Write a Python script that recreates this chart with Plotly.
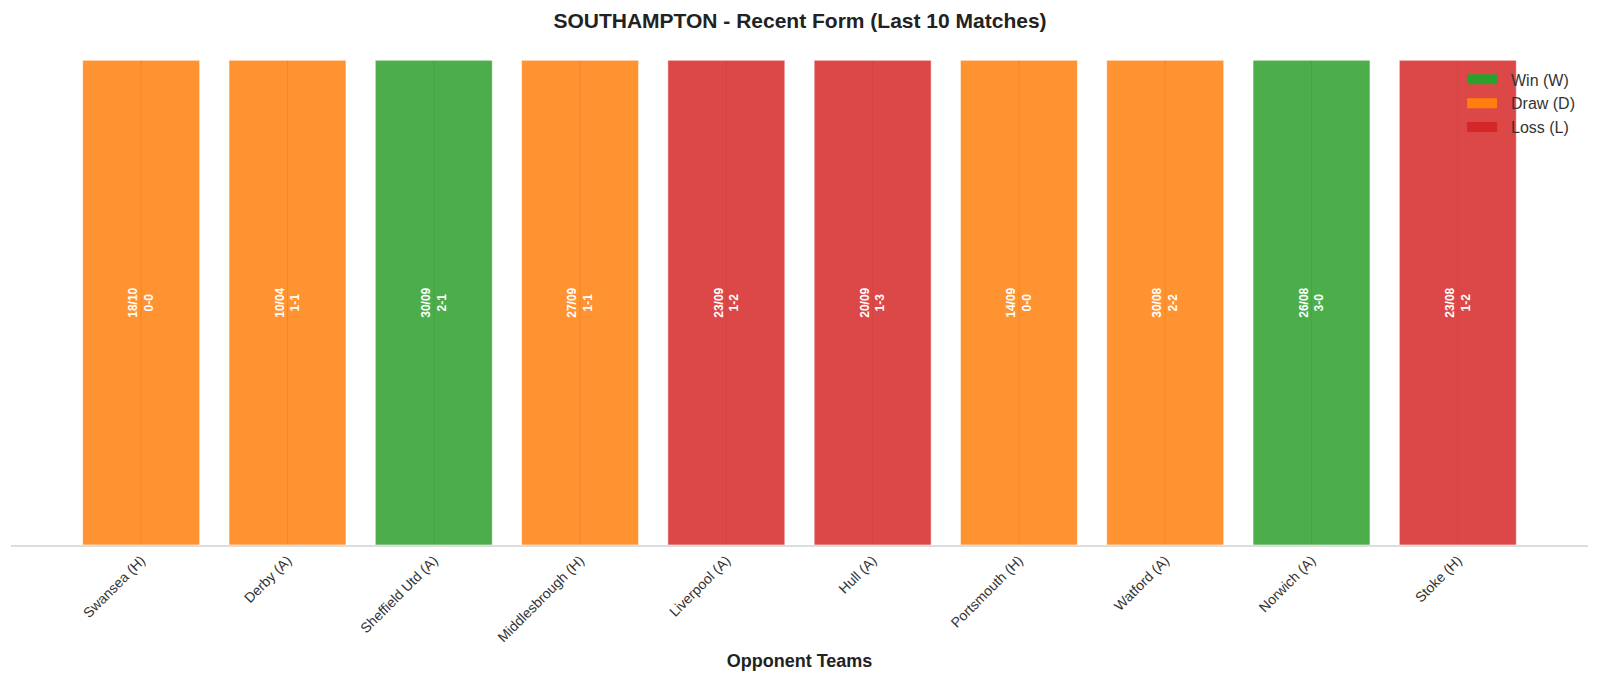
import plotly.graph_objects as go

# last 10 matches, most recent first
teams = ["Swansea (H)", "Derby (A)", "Sheffield Utd (A)", "Middlesbrough (H)", "Liverpool (A)",
         "Hull (A)", "Portsmouth (H)", "Watford (A)", "Norwich (A)", "Stoke (H)"]
dates = ["18/10", "10/04", "30/09", "27/09", "23/09", "20/09", "14/09", "30/08", "26/08", "23/08"]
scores = ["0-0", "1-1", "2-1", "1-1", "1-2", "1-3", "0-0", "2-2", "3-0", "1-2"]
results = ["D", "D", "W", "D", "L", "L", "D", "D", "W", "L"]
heights = [1] * len(teams)

result_names = {"W": "Win (W)", "D": "Draw (D)", "L": "Loss (L)"}
result_colors = {"W": "#2ca02c", "D": "#ff7f0e", "L": "#d62728"}

FONT = "Liberation Sans, Arial, sans-serif"

fig = go.Figure()

for r in ["W", "D", "L"]:
    idx = [i for i, res in enumerate(results) if res == r]
    fig.add_trace(go.Bar(
        name=result_names[r],
        x=idx,
        y=[heights[i] for i in idx],
        width=0.8,
        marker=dict(color=result_colors[r], opacity=0.85,
                    line=dict(color="rgba(255,255,255,0.6)", width=1)),
        text=[f"{dates[i]}<br>{scores[i]}" for i in idx],
        textposition="inside",
        insidetextanchor="middle",
        textangle=-90,
        textfont=dict(color="white", size=12, family=FONT, weight="bold"),
        hoverinfo="skip",
        showlegend=False,
    ))

# legend entries drawn as wide patches, like the original
for r in ["W", "D", "L"]:
    fig.add_trace(go.Scatter(
        name="\u00a0\u00a0" + result_names[r],
        x=[None], y=[None],
        mode="lines",
        line=dict(color=result_colors[r], width=11),
        hoverinfo="skip",
    ))

# faint grid line showing through the middle of each bar
for i, h in enumerate(heights):
    fig.add_shape(type="line", x0=i, x1=i, y0=0, y1=h, xref="x", yref="y",
                  line=dict(color="rgba(150,60,0,0.12)", width=1), layer="above")

fig.update_layout(
    width=1600,
    height=679,
    barmode="overlay",
    paper_bgcolor="white",
    plot_bgcolor="white",
    margin=dict(l=11, r=12, t=36, b=134),
    title=dict(text="<b>SOUTHAMPTON - Recent Form (Last 10 Matches)</b>",
               x=0.5, xanchor="center", y=0.97, yanchor="middle",
               font=dict(family=FONT, size=21, color="#222222")),
    font=dict(family=FONT, size=13, color="#333333"),
    legend=dict(x=0.995, y=0.948, xanchor="right", yanchor="top",
                bgcolor="rgba(0,0,0,0)", font=dict(size=16, color="#333333"),
                traceorder="normal", itemwidth=30),
    showlegend=True,
)

fig.update_xaxes(
    range=[-0.89, len(teams) - 1 + 0.89],
    tickmode="array",
    tickvals=list(range(len(teams))),
    ticktext=teams,
    tickangle=-45,
    tickfont=dict(size=14, color="#333333"),
    showgrid=False,
    showline=True,
    linecolor="#dddddd",
    linewidth=1.5,
    ticks="",
    zeroline=False,
    title=dict(text="<b>Opponent Teams</b>", font=dict(size=18, color="#222222"), standoff=10),
)

fig.update_yaxes(
    range=[0, 1.05],
    showticklabels=False,
    showgrid=False,
    zeroline=False,
    showline=False,
    ticks="",
)

fig.write_html("out.html",
               config={"displayModeBar": False},
               post_script="document.body.style.margin='0';document.body.style.overflow='hidden';")
